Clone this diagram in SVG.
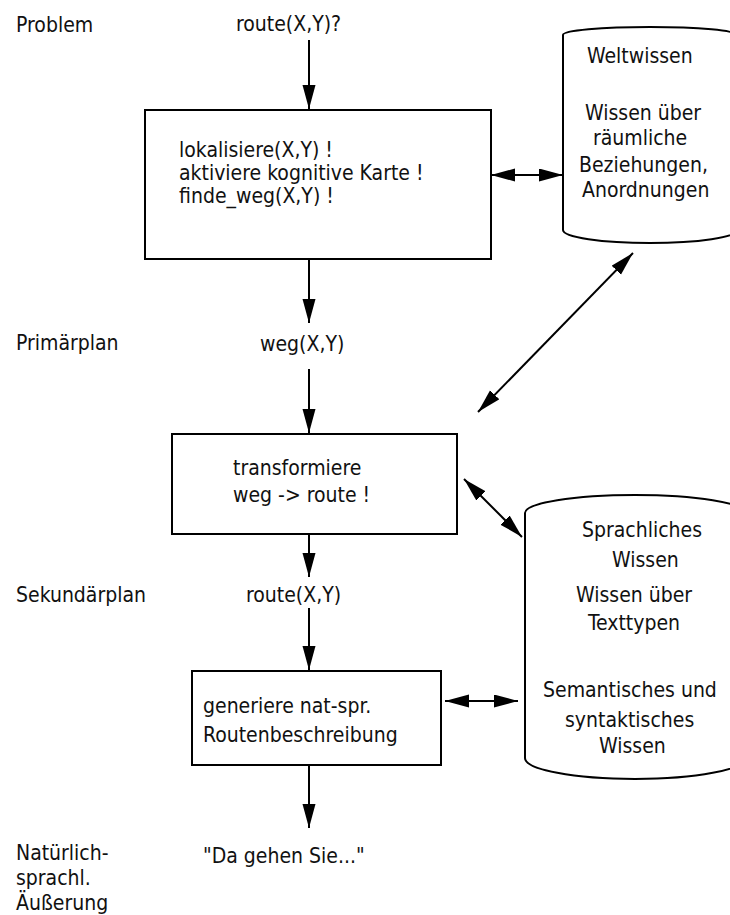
<svg xmlns="http://www.w3.org/2000/svg" width="730" height="915" viewBox="0 0 730 915">
<defs>
<style>
text{font-family:"DejaVu Sans Condensed","DejaVu Sans","Liberation Sans",sans-serif;font-size:21px;fill:#111}
.box{fill:#fff;stroke:#000;stroke-width:2}
.cyl{fill:#fff;stroke:#000;stroke-width:2}
.con{fill:none;stroke:#000;stroke-width:2}
</style>
<marker id="ah" markerUnits="userSpaceOnUse" markerWidth="26" markerHeight="14" refX="24" refY="6.5" orient="auto-start-reverse" viewBox="0 0 26 14">
<path d="M0,0 L24,6.5 L0,13 Z" fill="#000"/>
</marker>
</defs>
<rect width="730" height="915" fill="#fff"/>

<g id="labels">
<text x="16" y="32">Problem</text>
<text x="16" y="350">Primärplan</text>
<text x="16" y="602">Sekundärplan</text>
<text x="16" y="860">Natürlich-</text>
<text x="16" y="885">sprachl.</text>
<text x="16" y="910">Äußerung</text>
</g>

<g id="n-query"><text x="236" y="31">route(X,Y)?</text></g>
<g id="n-weg"><text x="260" y="351">weg(X,Y)</text></g>
<g id="n-route"><text x="246" y="602">route(X,Y)</text></g>
<g id="n-output"><text x="203" y="863">"Da gehen Sie..."</text></g>

<g id="box1">
<rect class="box" x="145" y="110" width="346" height="149"/>
<text x="179" y="157">lokalisiere(X,Y) !</text>
<text x="179" y="180">aktiviere kognitive Karte !</text>
<text x="179" y="203">finde_weg(X,Y) !</text>
</g>

<g id="box2">
<rect class="box" x="172" y="434" width="285" height="100"/>
<text x="233" y="475">transformiere</text>
<text x="233" y="502">weg -&gt; route !</text>
</g>

<g id="box3">
<rect class="box" x="192" y="671" width="249" height="94"/>
<text x="203" y="713">generiere nat-spr.</text>
<text x="203" y="742">Routenbeschreibung</text>
</g>

<g id="weltwissen">
<path class="cyl" d="M563,35 A87,8 0 0 1 737,35 L737,230 A87,13 0 0 1 563,230 Z"/>
<text x="587" y="63">Weltwissen</text>
<text x="585" y="120">Wissen über</text>
<text x="593" y="145">räumliche</text>
<text x="579" y="172">Beziehungen,</text>
<text x="582" y="197">Anordnungen</text>
</g>

<g id="sprachwissen">
<path class="cyl" d="M525,513 A110,18 0 0 1 745,513 L745,758 A110,21 0 0 1 525,758 Z"/>
<text x="582" y="537">Sprachliches</text>
<text x="612" y="567">Wissen</text>
<text x="576" y="602">Wissen über</text>
<text x="588" y="630">Texttypen</text>
<text x="543" y="697">Semantisches und</text>
<text x="565" y="727">syntaktisches</text>
<text x="599" y="753">Wissen</text>
</g>

<g id="connectors">
<line class="con" x1="309" y1="40" x2="309" y2="109" marker-end="url(#ah)"/>
<line class="con" x1="309" y1="259" x2="309" y2="323" marker-end="url(#ah)"/>
<line class="con" x1="309" y1="369" x2="309" y2="433" marker-end="url(#ah)"/>
<line class="con" x1="309" y1="534" x2="309" y2="577" marker-end="url(#ah)"/>
<line class="con" x1="309" y1="608" x2="309" y2="670" marker-end="url(#ah)"/>
<line class="con" x1="309" y1="765" x2="309" y2="828" marker-end="url(#ah)"/>
<line class="con" x1="491" y1="175" x2="563" y2="175" marker-start="url(#ah)" marker-end="url(#ah)"/>
<line class="con" x1="478" y1="412" x2="633" y2="253" marker-start="url(#ah)" marker-end="url(#ah)"/>
<line class="con" x1="464" y1="479" x2="522" y2="537" marker-start="url(#ah)" marker-end="url(#ah)"/>
<line class="con" x1="445" y1="701" x2="518" y2="701" marker-start="url(#ah)" marker-end="url(#ah)"/>
</g>
</svg>
